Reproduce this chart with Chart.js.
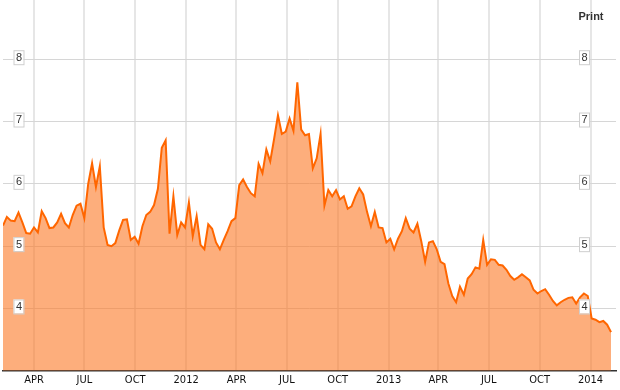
<!DOCTYPE html>
<html>
<head>
<meta charset="utf-8">
<script src="https://cdn.jsdelivr.net/npm/chart.js@4.4.1/dist/chart.umd.min.js"></script>
<style>
  body { margin: 0; background: #fff; }
  #wrap { width: 620px; height: 390px; }
</style>
</head>
<body>
<div id="wrap"><canvas id="myChart" width="620" height="390"></canvas></div>
<script>
// weekly closes, first one on startDate
let startDate = "2011-02-04";
let yields = [
  5.33, 5.47, 5.41, 5.40, 5.54, 5.38, 5.21, 5.20, 5.30, 5.22,
  5.56, 5.45, 5.29, 5.30, 5.38, 5.52, 5.37, 5.30, 5.50, 5.65,
  5.68, 5.45, 6.00, 6.33, 5.95, 6.28, 5.30, 5.02, 5.00, 5.05,
  5.25, 5.42, 5.43, 5.10, 5.15, 5.04, 5.32, 5.50, 5.55, 5.66,
  5.92, 6.58, 6.70, 5.20, 5.80, 5.18, 5.38, 5.30, 5.70, 5.16,
  5.48, 5.02, 4.95, 5.35, 5.28, 5.06, 4.95, 5.10, 5.24, 5.40,
  5.45, 5.98, 6.07, 5.95, 5.85, 5.80, 6.32, 6.17, 6.55, 6.36,
  6.72, 7.10, 6.80, 6.84, 7.05, 6.85, 7.63, 6.87, 6.78, 6.80,
  6.25, 6.41, 6.80, 5.65, 5.90, 5.80, 5.90, 5.75, 5.80, 5.60,
  5.64, 5.80, 5.93, 5.83, 5.55, 5.32, 5.55, 5.30, 5.29, 5.06,
  5.12, 4.95, 5.12, 5.24, 5.45, 5.28, 5.22, 5.36, 5.08, 4.75,
  5.06, 5.08, 4.95, 4.75, 4.71, 4.40, 4.20, 4.10, 4.35, 4.22,
  4.48, 4.55, 4.66, 4.64, 5.10, 4.70, 4.79, 4.78, 4.70, 4.69,
  4.62, 4.52, 4.46, 4.50, 4.55, 4.50, 4.45, 4.30, 4.24, 4.28,
  4.31, 4.22, 4.12, 4.05, 4.10, 4.14, 4.17, 4.18, 4.08, 4.18,
  4.24, 4.20, 3.84, 3.82, 3.78, 3.80, 3.74, 3.62
];
let tickDates = [
  "2011-04-01", "2011-07-01", "2011-10-01", "2012-01-01",
  "2012-04-01", "2012-07-01", "2012-10-01", "2013-01-01",
  "2013-04-01", "2013-07-01", "2013-10-01", "2014-01-01"
];
let tickLabels = ["APR", "JUL", "OCT", "2012", "APR", "JUL", "OCT", "2013", "APR", "JUL", "OCT", "2014"];
let yTicks = [4, 5, 6, 7, 8];

function dayNum(s) {
  return Date.parse(s + "T00:00:00Z") / 86400000;
}

let firstDay = dayNum(startDate);
let points = yields.map((v, i) => ({ x: firstDay + 7 * i, y: v }));
let tickDays = tickDates.map(dayNum);

// boxed value labels on both sides + the Print link
const extras = {
  id: "extras",
  afterDatasetsDraw(chart) {
    const c = chart.ctx;
    const y = chart.scales.y;
    c.save();
    c.font = "11px 'Liberation Sans', Arial, sans-serif";
    c.textAlign = "center";
    c.textBaseline = "middle";
    yTicks.forEach((v) => {
      const py = y.getPixelForValue(v) - 2;
      [18.5, 584].forEach((px) => {
        c.fillStyle = "#fff";
        c.fillRect(px - 5, py - 7, 10, 14);
        c.strokeStyle = "#cfcfcf";
        c.lineWidth = 1;
        c.strokeRect(px - 5 + 0.5, py - 7 + 0.5, 10, 14);
        c.fillStyle = "#333";
        c.fillText(String(v), px + 0.5, py + 0.5);
      });
    });
    c.font = "bold 11px 'Liberation Sans', Arial, sans-serif";
    c.fillStyle = "#333";
    c.fillText("Print", 591, 17);
    c.restore();
  },
};

var ctx = document.getElementById("myChart");
var lineChart = new Chart(ctx, {
  type: "line",
  data: {
    datasets: [
      {
        label: "",
        data: points,
        borderColor: "#ff6600",
        borderWidth: 2,
        backgroundColor: "rgba(252,120,37,0.6)",
        fill: "start",
        pointRadius: 0,
        tension: 0,
      },
    ],
  },
  options: {
    responsive: false,
    devicePixelRatio: 1,
    animation: false,
    layout: {
      padding: { left: 3, right: 4, top: 0, bottom: 0 },
    },
    plugins: {
      legend: { display: false },
      tooltip: { enabled: false },
    },
    scales: {
      x: {
        type: "linear",
        min: firstDay,
        max: firstDay + 1108,
        afterBuildTicks: (axis) => {
          axis.ticks = tickDays.map((d) => ({ value: d }));
        },
        ticks: {
          autoSkip: false,
          maxRotation: 0,
          padding: 3,
          color: "#111",
          font: { size: 11, family: "'Liberation Sans Narrow', 'DejaVu Sans Condensed', Arial, sans-serif" },
          callback: (value) => tickLabels[tickDays.indexOf(value)],
        },
        grid: { color: "#e6e6e6", lineWidth: 2, drawTicks: false },
        border: { color: "#333", width: 1.5 },
      },
      y: {
        min: 3,
        max: 8.95,
        afterBuildTicks: (axis) => {
          axis.ticks = yTicks.map((v) => ({ value: v }));
        },
        ticks: { display: false },
        grid: { color: "#d6d6d6", lineWidth: 1, drawTicks: false },
        border: { display: false },
      },
    },
  },
  plugins: [extras],
});
</script>
</body>
</html>
